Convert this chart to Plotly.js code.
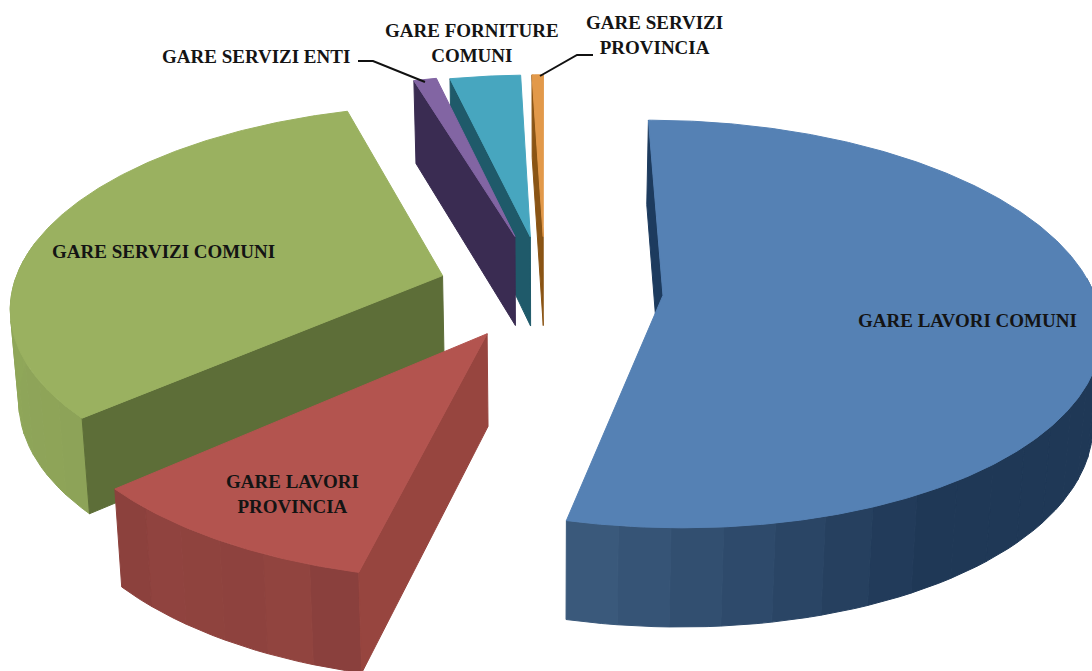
<!DOCTYPE html>
<html><head><meta charset="utf-8">
<script src="https://cdn.plot.ly/plotly-3.0.1.min.js"></script>
<style>html,body{margin:0;padding:0;background:#fff}#c{width:1092px;height:671px}</style>
</head><body><div id="c"></div>
<script>
// Data (share of total, %), clockwise from 12 o'clock
const categories = ["GARE LAVORI COMUNI","GARE LAVORI PROVINCIA","GARE SERVIZI COMUNI","GARE SERVIZI ENTI","GARE FORNITURE COMUNI","GARE SERVIZI PROVINCIA"];
const shares = [53.7, 9.7, 32.0, 1.0, 3.1, 0.5];
const explode = [0.275, 0.255, 0.25, 0.285, 0.275, 0.275];

// Styles
const topColors = ["#5581b4","#b3544f","#9ab160","#8265a3","#47a6bf","#e2994a"];
const cutColors = ["#1d3b5e","#97453f","#5d6e38","#3a2c52","#1f5a6a","#8a5414"];
const wallFrom  = ["#1f3856","#883f3c","#8da358","#3a2c52","#1f5a6a","#8a5414"];
const wallTo    = ["#3c5c7e","#934540","#90a85a","#3a2c52","#1f5a6a","#8a5414"];
const wallDarkUntil = [150,193,228,0,0,0];
const paintOrder = [5,4,3,0,2,1];
const labelText = ["GARE LAVORI COMUNI","GARE LAVORI<br>PROVINCIA","GARE SERVIZI COMUNI","GARE SERVIZI ENTI","GARE FORNITURE<br>COMUNI","GARE SERVIZI<br>PROVINCIA"];
const labelX = [967,292,163,256,472,654];
const labelY = [320,494,251,56,43,35];
const leaderX = [[358,373,425],[593,577,540]];
const leaderY = [[61,61,82],[55,55,76]];

// Projection of the tilted pie
const cx=545, cy=289, Rx=430, Ry=198, k=0.14, D=91;
function proj(X,Y,down){
  const w=1+k*Y; let x=cx+Rx*X/w, y=cy-Ry*Y/w;
  if(down){ y+=D/(1+0.08*Y); x-=0.016*(x-cx); }
  return [x,y];
}
const rad=d=>d*Math.PI/180;
function hex(c){return [1,3,5].map(i=>parseInt(c.substr(i,2),16));}
function mix(a,b,t){const A=hex(a),B=hex(b);return 'rgb('+A.map((v,i)=>Math.round(v+(B[i]-v)*t)).join(',')+')';}

const total=shares.reduce((a,b)=>a+b,0);
let acc=0;
const slices=shares.map((s,i)=>{
  const a0=acc/total*360; acc+=s; const a1=acc/total*360; const m=(a0+a1)/2;
  return {i,a0,a1,ox:explode[i]*Math.sin(rad(m)),oy:explode[i]*Math.cos(rad(m))};
});
function rim(sl,t,down){return proj(sl.ox+Math.sin(rad(t)),sl.oy+Math.cos(rad(t)),down);}
function apex(sl,down){return proj(sl.ox,sl.oy,down);}
function arc(sl,t0,t1,down){
  const m=Math.max(2,Math.ceil(Math.abs(t1-t0)/0.5)), out=[];
  for(let j=0;j<=m;j++) out.push(rim(sl,t0+(t1-t0)*j/m,down));
  return out;
}

const traces=[];
function poly(pts,color){
  traces.push({type:'scatter',mode:'lines',x:pts.map(p=>p[0]).concat(pts[0][0]),y:pts.map(p=>p[1]).concat(pts[0][1]),
    fill:'toself',fillcolor:color,line:{color:color,width:1},hoverinfo:'skip',showlegend:false});
}
paintOrder.forEach(idx=>{
  const sl=slices[idx];
  // outer wall in bands (only the side facing the viewer)
  const lo=Math.max(sl.a0,85), hi=Math.min(sl.a1,280);
  if(hi>lo){
    const n=Math.max(3,Math.round((hi-lo)/6));
    for(let b=0;b<n;b++){
      const t0=lo+(hi-lo)*b/n, t1=lo+(hi-lo)*(b+1)/n;
      const pts=arc(sl,t0,t1,false).concat(arc(sl,t1,t0,true));
      const tm=(t0+t1)/2, start=Math.max(lo,wallDarkUntil[idx]);
      const f=Math.max(0,Math.min(1,(tm-start)/(Math.max(hi-start,1))));
      const g=(idx===1)? Math.abs(Math.sin(b*1.3))*0.6+0.2 : f;
      poly(pts,mix(wallFrom[idx],wallTo[idx],g));
    }
  }
  // visible cut face
  poly([apex(sl,false),rim(sl,sl.a0,false),rim(sl,sl.a0,true),apex(sl,true)],cutColors[idx]);
  // top face
  poly([apex(sl,false)].concat(arc(sl,sl.a0,sl.a1,false)),topColors[idx]);
});
leaderX.forEach((lx,i)=>traces.push({type:'scatter',mode:'lines',x:lx,y:leaderY[i],line:{color:'#111',width:2},hoverinfo:'skip',showlegend:false}));

const layout={
  width:1092,height:671,margin:{l:0,r:0,t:0,b:0},paper_bgcolor:'#fff',plot_bgcolor:'#fff',showlegend:false,
  xaxis:{range:[0,1092],visible:false,fixedrange:true},
  yaxis:{range:[671,0],visible:false,fixedrange:true},
  annotations:categories.map((c,i)=>({x:labelX[i],y:labelY[i],xref:'x',yref:'y',text:'<b>'+labelText[i]+'</b>',showarrow:false,
    xanchor:'center',yanchor:'middle',align:'center',font:{family:'"Liberation Serif",serif',size:19,color:'#141414'}}))
};
Plotly.newPlot('c',traces,layout,{displayModeBar:false,staticPlot:true});
</script></body></html>
